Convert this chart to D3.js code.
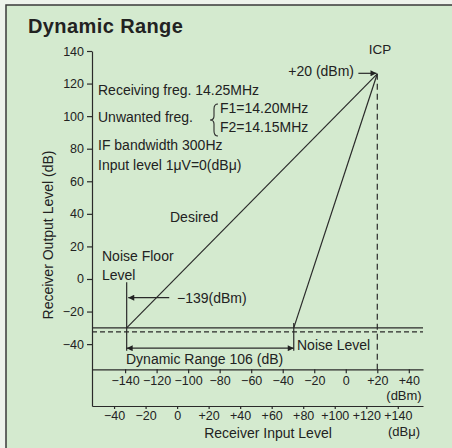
<!DOCTYPE html>
<html>
<head>
<meta charset="utf-8">
<script src="https://cdn.jsdelivr.net/npm/d3@7"></script>
<style>
  body { margin: 0; background: #eef3ec; }
  text { font-family: "Liberation Sans", Arial, Helvetica, sans-serif; fill: #222; }
  .tick text { font-family: "Liberation Sans Narrow", "Liberation Sans", Arial, sans-serif; font-size: 12.5px; fill: #222; }
  .tick line, .domain { stroke: #2a2a2a; stroke-width: 1.2; }
</style>
</head>
<body>
<div id="chart"></div>
<script>
// axis ticks
const yTicks = [-40, -20, 0, 20, 40, 60, 80, 100, 120, 140];
const dbmTicks = [-140, -120, -100, -80, -60, -40, -20, 0, 20, 40];
const dbuTicks = [-40, -20, 0, 20, 40, 60, 80, 100, 120, 140];
const dbuOffset = 107;   // 0 dBμ = -107 dBm

// key points [dBm, dB output]
const noiseFloor = [-139, -30];
const icp = [20, 126];
const noiseLevel = [-33, -30];
const dashedLevel = -32.5;

const width = 452, height = 448;

const svg = d3.select('#chart')
  .append('svg')
  .attr('width', width)
  .attr('height', height);

const fmt = d => d > 0 ? `+${d}` : d < 0 ? `\u2212${-d}` : '0';
const fmtY = d => d < 0 ? `\u2212${-d}` : `${d}`;

// frame
svg.append('rect')
  .attr('x', 6).attr('y', 5)
  .attr('width', width).attr('height', height)
  .attr('fill', '#d4eacf')
  .attr('stroke', '#3a3a3a')
  .attr('stroke-width', 1.5);

svg.append('text')
  .attr('x', 28).attr('y', 33)
  .attr('font-size', 20).attr('font-weight', 'bold')
  .attr('letter-spacing', 0.4)
  .text('Dynamic Range');

const x = d3.scaleLinear().domain([-161, 49]).range([92, 423]);
const xu = x.copy().domain(x.domain().map(d => d + dbuOffset));
const y = d3.scaleLinear().domain([-78, 140]).range([406, 51]);

const defs = svg.append('defs');
defs.append('marker')
  .attr('id', 'arr')
  .attr('viewBox', '0 0 10 10')
  .attr('refX', 10).attr('refY', 5)
  .attr('markerWidth', 9).attr('markerHeight', 6)
  .attr('markerUnits', 'userSpaceOnUse')
  .attr('orient', 'auto-start-reverse')
  .append('path')
  .attr('d', 'M0,0L10,5L0,10Z')
  .attr('fill', '#222');

// axes
svg.append('g')
  .attr('transform', `translate(${x.range()[0]},0)`)
  .call(d3.axisLeft(y).tickValues(yTicks).tickSize(5).tickSizeOuter(0).tickPadding(3).tickFormat(fmtY))
  .call(g => g.selectAll('.tick text').attr('font-size', 12));

svg.append('g')
  .attr('transform', `translate(0,${y(-55.5)})`)
  .call(d3.axisBottom(x).tickValues(dbmTicks).tickSize(4).tickSizeOuter(0).tickPadding(3).tickFormat(fmt));

svg.append('g')
  .attr('transform', `translate(0,${y(-78)})`)
  .call(d3.axisBottom(xu).tickValues(dbuTicks).tickSize(3).tickSizeOuter(0).tickPadding(2).tickFormat(fmt));

const line = d3.line().x(d => x(d[0])).y(d => y(d[1]));
const [x0, x1] = x.domain();

const plain = (pts, dash) => svg.append('path')
  .attr('d', line(pts))
  .attr('fill', 'none')
  .attr('stroke', '#2a2a2a')
  .attr('stroke-width', 1.2)
  .attr('stroke-dasharray', dash || null);

// noise floor (solid) and noise level (dashed)
plain([[x0, noiseFloor[1]], [x1, noiseFloor[1]]]);
plain([[x0, dashedLevel], [x1, dashedLevel]], '5,3');

// desired and 3rd order lines
plain([noiseFloor, icp]);
plain([noiseLevel, icp]);

// ICP dashed drop
plain([icp, [icp[0], -55.5]], '6,4');

// vertical markers
plain([[noiseFloor[0], -2], [noiseFloor[0], -44]]);
plain([[noiseLevel[0], -27], [noiseLevel[0], -44]]);

// arrows
const arrow = (pts, both) => plain(pts)
  .attr('marker-end', 'url(#arr)')
  .attr('marker-start', both ? 'url(#arr)' : null);

arrow([[noiseFloor[0], -42.5], [noiseLevel[0], -42.5]], true);
arrow([[-112, -11.5], [-138, -11.5]]);
arrow([[8, 126.3], [icp[0] - 0.5, 126.3]]);

// labels
const label = (tx, ty, str, opts = {}) => svg.append('text')
  .attr('x', tx).attr('y', ty)
  .attr('font-size', opts.size || 14)
  .attr('text-anchor', opts.anchor || 'start')
  .text(str);

label(98, 95, 'Receiving freg. 14.25MHz');
label(98, 122, 'Unwanted freg.');
label(220, 113, 'F1=14.20MHz');
label(220, 132, 'F2=14.15MHz');
label(98, 150, 'IF bandwidth 300Hz');
label(98, 170, 'Input level 1\u03BCV=0(dB\u03BC)');
label(170, 222, 'Desired');
label(102, 261, 'Noise Floor');
label(102, 280, 'Level');
label(177, 303, '\u2212139(dBm)');
label(354, 76, '+20 (dBm)', { anchor: 'end' });
label(380, 54, 'ICP', { anchor: 'middle', size: 13.5 });
label(297, 350, 'Noise Level');
label(126, 364, 'Dynamic Range 106 (dB)');
label(404, 400, '(dBm)', { anchor: 'middle', size: 13 });
label(404, 436, '(dB\u03BC)', { anchor: 'middle', size: 13 });
label(268, 438, 'Receiver Input Level', { anchor: 'middle' });

svg.append('text')
  .attr('transform', 'translate(53,235) rotate(-90)')
  .attr('text-anchor', 'middle')
  .attr('font-size', 14)
  .text('Receiver Output Level (dB)');

// brace for F1 / F2
const bx = 214, by0 = 104, by1 = 136, bm = (by0 + by1) / 2;
svg.append('path')
  .attr('d', `M${bx + 4},${by0} Q${bx},${by0} ${bx},${by0 + 5} L${bx},${bm - 4} Q${bx},${bm} ${bx - 4},${bm} Q${bx},${bm} ${bx},${bm + 4} L${bx},${by1 - 5} Q${bx},${by1} ${bx + 4},${by1}`)
  .attr('fill', 'none')
  .attr('stroke', '#2a2a2a')
  .attr('stroke-width', 1.1);
</script>
</body>
</html>
